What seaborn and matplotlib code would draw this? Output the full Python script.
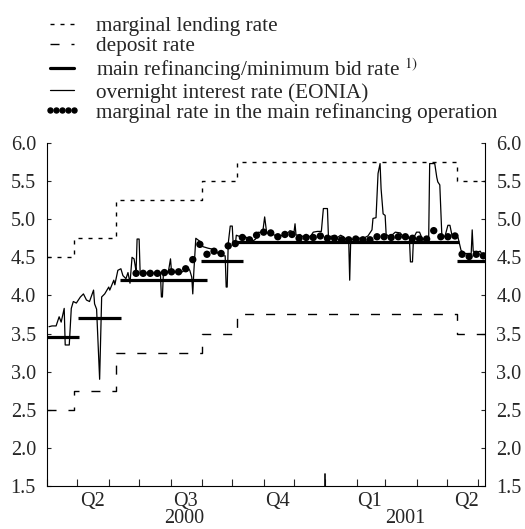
import numpy as np
import pandas as pd
import matplotlib
matplotlib.use("Agg")
import matplotlib.pyplot as plt
import matplotlib.dates as mdates
from matplotlib.lines import Line2D
import seaborn as sns

# ---------------- data ----------------
start = pd.Timestamp("2000-04-01")
end = pd.Timestamp("2001-06-08")

policy_dates = ["2000-04-01", "2000-04-28", "2000-06-08", "2000-09-01",
                "2000-10-06", "2001-05-11", "2001-06-08"]
marginal_lending = [4.50, 4.75, 5.25, 5.50, 5.75, 5.50, 5.50]
deposit_rate = [2.50, 2.75, 3.25, 3.50, 3.75, 3.50, 3.50]

refi_start = ["2000-04-01", "2000-05-02", "2000-06-12", "2000-08-31", "2000-10-05", "2001-05-11"]
refi_end = ["2000-05-03", "2000-06-13", "2000-09-06", "2000-10-12", "2001-05-13", "2001-06-08"]
refi_rate = [3.46, 3.70, 4.20, 4.45, 4.70, 4.45]

# EONIA: day offsets from 1 April 2000 and values
eonia_day = [2, 5, 9, 12, 14, 17, 18, 22, 24, 26, 29, 33, 36, 39, 42, 46, 47, 49, 52, 54,
             57, 61, 62, 66, 67, 70, 73, 75, 78, 80, 82, 84, 86, 87, 88, 89, 91, 92, 102, 112,
             113, 114, 115, 120, 122, 123, 134, 138, 141, 143, 144, 145, 147, 151, 154, 159, 166, 169, 173, 176,
             177, 178, 179, 181, 183, 184, 186, 187, 191, 196, 199, 202, 206, 209, 213, 215, 217, 222, 225, 228,
             233, 237, 240, 244, 245, 246, 250, 253, 256, 258, 261, 263, 267, 271, 273, 277, 278, 282, 286, 290,
             293, 296, 298, 299, 300, 304, 307, 311, 317, 321, 322, 325, 327, 329, 330, 332, 334, 335, 339, 344,
             349, 352, 356, 358, 359, 361, 362, 365, 368, 371, 377, 378, 383, 385, 386, 388, 390, 393, 396, 398,
             400, 403, 406, 409, 413, 417, 419, 420, 421, 425, 428, 430, 432]
eonia = [3.59, 3.60, 3.60, 3.72, 3.65, 3.83, 3.35, 3.35, 3.83, 3.92, 3.90, 3.98, 4.02, 3.94, 3.92, 4.07, 3.89, 3.82, 2.90, 3.98,
         4.02, 4.11, 4.07, 4.20, 4.14, 4.33, 4.35, 4.26, 4.22, 4.30, 4.16, 4.50, 4.48, 4.40, 4.31, 4.74, 4.74, 4.30, 4.29, 4.30,
         3.98, 3.98, 4.30, 4.32, 4.48, 4.31, 4.31, 4.38, 4.33, 4.24, 4.02, 4.30, 4.75, 4.71, 4.64, 4.62, 4.60, 4.55, 4.52, 4.52,
         4.11, 4.11, 4.68, 4.91, 4.91, 4.65, 4.66, 4.79, 4.77, 4.77, 4.74, 4.70, 4.74, 4.83, 4.82, 5.03, 4.82, 4.81, 4.79, 4.77,
         4.79, 4.81, 4.85, 4.83, 4.94, 4.79, 4.80, 4.77, 4.80, 4.76, 4.79, 4.83, 4.84, 4.84, 5.14, 5.14, 4.77, 4.78, 4.75, 4.79,
         4.77, 4.73, 4.73, 4.20, 4.73, 4.74, 4.76, 4.74, 4.78, 4.86, 5.01, 5.02, 5.60, 5.73, 5.40, 5.07, 5.05, 4.80, 4.77, 4.83,
         4.82, 4.77, 4.77, 4.74, 4.44, 4.44, 4.75, 4.83, 4.83, 4.73, 4.74, 5.73, 5.73, 5.55, 5.49, 5.45, 4.79, 4.77, 4.92, 4.92,
         4.79, 4.77, 4.76, 4.59, 4.55, 4.55, 4.55, 4.86, 4.58, 4.57, 4.58, 4.53, 4.52]

# marginal rate in the weekly main refinancing operations (from 28 June 2000)
mro_first = "2000-06-28"
mro_marginal = [4.29, 4.29, 4.29, 4.29, 4.30, 4.31, 4.31, 4.35, 4.47, 4.67,
                4.54, 4.58, 4.55, 4.65, 4.68, 4.76, 4.73, 4.79, 4.83, 4.82,
                4.77, 4.80, 4.80, 4.75, 4.76, 4.76, 4.78, 4.75, 4.75, 4.73,
                4.73, 4.74, 4.73, 4.73, 4.77, 4.77, 4.76, 4.77, 4.77, 4.75,
                4.74, 4.74, 4.85, 4.77, 4.77, 4.78, 4.54, 4.51, 4.54, 4.52]

quarter_labels = ["Q2", "Q3", "Q4", "Q1", "Q2"]
quarter_pos = ["2000-05-16", "2000-08-16", "2000-11-15", "2001-02-14", "2001-05-20"]
year_labels = ["2000", "2001"]
year_pos = ["2000-08-15", "2001-03-21"]

legend_labels = ["marginal lending rate", "deposit rate",
                 "main refinancing/minimum bid rate $^{1)}$",
                 "overnight interest rate (EONIA)",
                 "marginal rate in the main refinancing operation"]

# ---------------- frames ----------------
policy = pd.DataFrame({"date": pd.to_datetime(policy_dates),
                       "mlf": marginal_lending, "dep": deposit_rate})
eon = pd.DataFrame({"date": start + pd.to_timedelta(eonia_day, unit="D"), "rate": eonia})
mro = pd.DataFrame({"date": pd.date_range(mro_first, periods=len(mro_marginal), freq="7D"),
                    "rate": mro_marginal})

# ---------------- plot ----------------
sns.set_theme(style="ticks")
plt.rcParams["font.family"] = ["Liberation Serif", "DejaVu Serif"]
plt.rcParams["mathtext.fontset"] = "stix"
FS = 14.5
LFS = 15.3

fig = plt.figure(figsize=(5.25, 5.29), dpi=100)
ax = fig.add_axes([0.0895, 0.0813, 0.835, 0.6484])

mlf_style = (0, (2.9, 4.3))
dep_style = (0, (6.5, 8.6))

sns.lineplot(data=policy, x="date", y="mlf", ax=ax, drawstyle="steps-post",
             color="black", lw=1.0, linestyle=mlf_style)
sns.lineplot(data=policy, x="date", y="dep", ax=ax, drawstyle="steps-post",
             color="black", lw=1.0, linestyle=dep_style)
ax.hlines(refi_rate, pd.to_datetime(refi_start), pd.to_datetime(refi_end),
          color="black", lw=2.3)
sns.lineplot(data=eon, x="date", y="rate", ax=ax, color="black", lw=0.9)
sns.scatterplot(data=mro, x="date", y="rate", ax=ax, color="black", s=28,
                edgecolor="none", zorder=5)

ax.set_xlim(start, end)
ax.set_ylim(1.5, 6.0)
ax.set_yticks(np.arange(1.5, 6.01, 0.5))
ax.yaxis.set_major_formatter(matplotlib.ticker.FormatStrFormatter("%.1f"))
ax.set_xlabel("")
ax.set_ylabel("")

ax.xaxis.set_major_locator(mdates.MonthLocator())
ax.xaxis.set_major_formatter(matplotlib.ticker.NullFormatter())
ax.set_xticks(pd.to_datetime(quarter_pos), minor=True)
ax.set_xticklabels(quarter_labels, minor=True)
ax.tick_params(axis="x", which="major", direction="in", length=5, width=0.8)
ax.tick_params(axis="x", which="minor", length=0, pad=4, labelsize=FS)
ax.tick_params(axis="y", direction="in", length=3, width=0.8, labelsize=FS,
               left=True, right=True, labelleft=True, labelright=True, pad=8)
for lab in ax.get_xticklabels(minor=True):
    lab.set_fontsize(FS)

# longer tick at the turn of the year
ax.axvline(pd.Timestamp("2001-01-01"), ymin=0, ymax=0.035, color="black", lw=1.2)

for lbl, pos in zip(year_labels, year_pos):
    ax.text(pd.Timestamp(pos), -0.094, lbl, transform=ax.get_xaxis_transform(),
            ha="center", va="center", fontsize=FS)

for side in ["left", "right", "bottom"]:
    ax.spines[side].set_visible(True)
    ax.spines[side].set_color("black")
    ax.spines[side].set_linewidth(0.8)
ax.spines["top"].set_visible(False)

handles = [Line2D([], [], color="black", lw=1.0, linestyle=mlf_style),
           Line2D([], [], color="black", lw=1.0, linestyle=dep_style),
           Line2D([], [], color="black", lw=2.3),
           Line2D([], [], color="black", lw=0.9),
           Line2D([], [], color="black", lw=0, marker="o", markersize=3.6)]
leg = fig.legend(handles, legend_labels, loc="upper left",
                 bbox_to_anchor=(0.067, 0.985), frameon=False, fontsize=LFS,
                 handlelength=1.75, handletextpad=0.7, labelspacing=0.0,
                 borderaxespad=0, numpoints=5)

fig.savefig("out.png", dpi=100)
